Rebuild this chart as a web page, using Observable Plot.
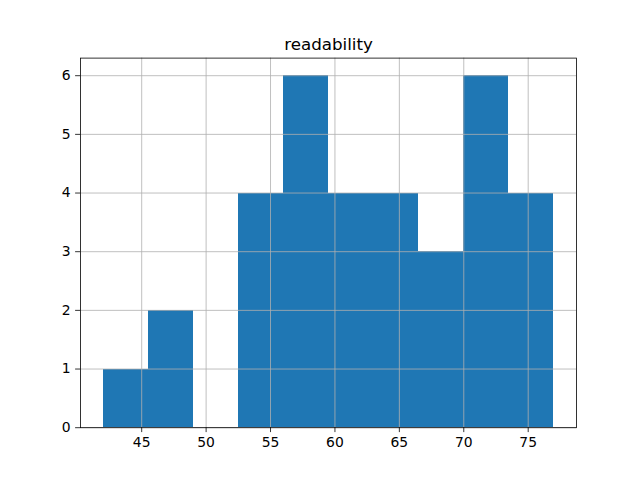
<!DOCTYPE html>
<html><head><meta charset="utf-8">
<script src="https://cdn.jsdelivr.net/npm/d3@7"></script>
<script src="https://cdn.jsdelivr.net/npm/@observablehq/plot@0.6"></script>
<style>body{margin:0;background:#fff}</style>
</head><body><div id="chart"></div>
<script>
const binEdges = [42, 45.5, 49, 52.5, 56, 59.5, 63, 66.5, 70, 73.5, 77];
const counts = [1, 2, 0, 4, 6, 4, 4, 3, 6, 4];
const xTicks = [45, 50, 55, 60, 65, 70, 75];
const yTicks = [0, 1, 2, 3, 4, 5, 6];
const title = "readability";

const bins = counts.map((c, i) => ({x1: binEdges[i], x2: binEdges[i + 1], count: c}));

const chart = Plot.plot({
  width: 640,
  height: 480,
  marginLeft: 80,
  marginRight: 64,
  marginTop: 57.6,
  marginBottom: 52.8,
  style: {fontFamily: "DejaVu Sans", fontSize: "13.9px", color: "black", background: "white"},
  x: {domain: [40.25, 78.75]},
  y: {domain: [0, 6.3]},
  marks: [
    Plot.rectY(bins.filter(d => d.count > 0), {x1: "x1", x2: "x2", y: "count", fill: "#1f77b4", inset: 0, shapeRendering: "crispEdges"}),
    Plot.gridX(xTicks, {stroke: "#b0b0b0", strokeOpacity: 1, strokeWidth: 0.8}),
    Plot.gridY(yTicks, {stroke: "#b0b0b0", strokeOpacity: 1, strokeWidth: 0.8}),
    Plot.frame({stroke: "black", strokeWidth: 0.8}),
    Plot.axisX(xTicks, {tickSize: 4.9, tickPadding: 4.9, strokeWidth: 0.8, fontSize: 13.9, label: null, fill: "black", tickFormat: d3.format("d")}),
    Plot.axisY(yTicks, {tickSize: 4.9, tickPadding: 4.9, strokeWidth: 0.8, fontSize: 13.9, label: null, fill: "black", tickFormat: d3.format("d")}),
    Plot.text([title], {text: d => d, frameAnchor: "top", lineAnchor: "bottom", dy: -8.3, fontSize: 16.7, fill: "black"})
  ]
});
document.getElementById("chart").appendChild(chart);
</script>
</body></html>
